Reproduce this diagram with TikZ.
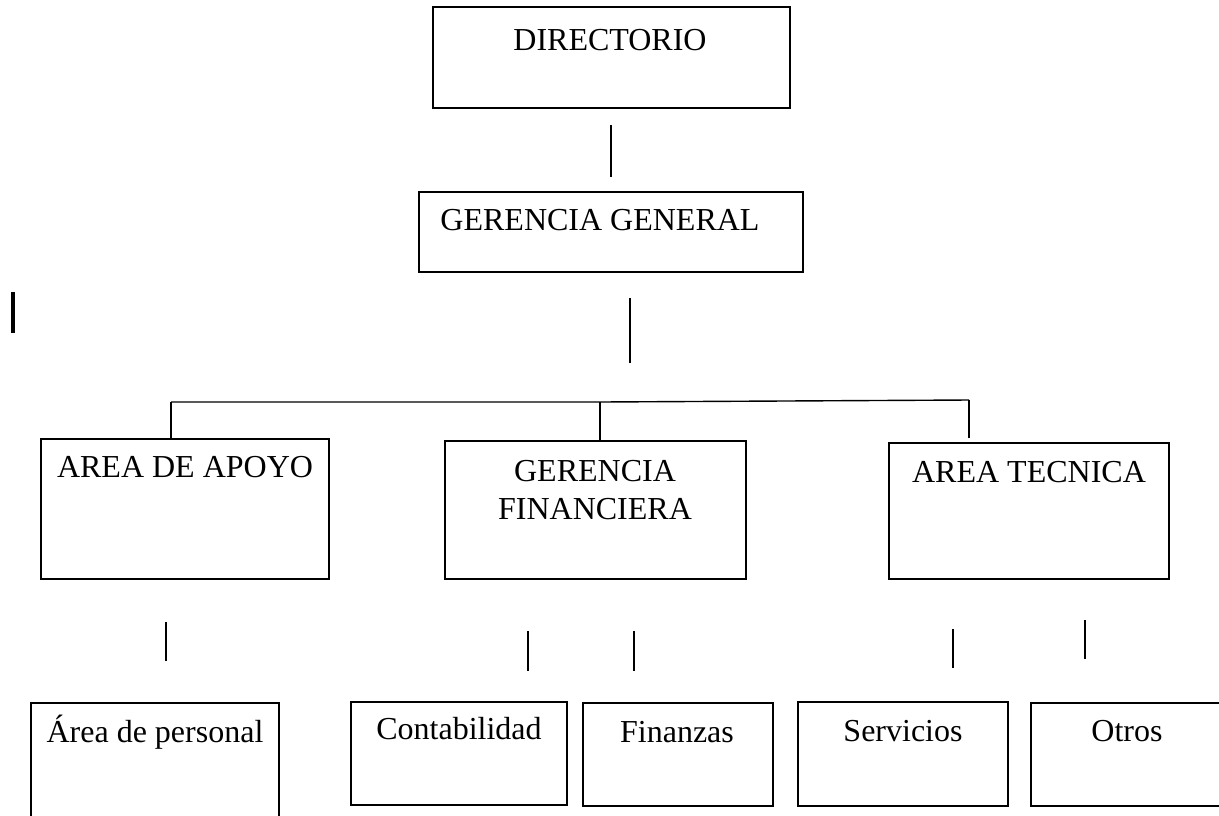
\documentclass[tikz,border=0pt]{standalone}
\usepackage{fontspec}
\setmainfont{Liberation Serif}
\begin{document}
\begin{tikzpicture}[x=1pt,y=-1pt,
  orgbox/.style={draw, line width=1.8pt, inner sep=0pt, rectangle},
  lbl/.style={anchor=base, inner sep=0pt, font=\fontsize{32}{38}\selectfont, align=center},
  conn/.style={line width=1.4pt},
  thickbar/.style={line width=3.8pt}]
\useasboundingbox (0,0) rectangle (1219,815);
\clip (0,0) rectangle (1219,815);
\fill[white] (0,0) rectangle (1219,815);
% boxes
\node[orgbox, minimum width=357pt, minimum height=101pt] (dir) at (611.5,57.5) {};
\node[orgbox, minimum width=384pt, minimum height=80pt] (gg) at (611,232) {};
\node[orgbox, minimum width=288pt, minimum height=140pt] (apo) at (185,509) {};
\node[orgbox, minimum width=301pt, minimum height=138pt] (fin) at (595.5,510) {};
\node[orgbox, minimum width=280pt, minimum height=136pt] (tec) at (1029,511) {};
\node[orgbox, minimum width=248pt, minimum height=140pt] (per) at (155,773) {};
\node[orgbox, minimum width=216pt, minimum height=103pt] (con) at (459,753.5) {};
\node[orgbox, minimum width=190pt, minimum height=103pt] (fzs) at (678,754.5) {};
\node[orgbox, minimum width=210pt, minimum height=104pt] (ser) at (903,754) {};
\node[orgbox, minimum width=210pt, minimum height=103pt] (otr) at (1136,754.5) {};
% labels
\node[lbl] (dirT) at (610,50) {DIRECTORIO};
\node[lbl] (ggT) at (600,230) {GERENCIA GENERAL};
\node[lbl] (apoT) at (185,477) {AREA DE APOYO};
\node[lbl] (finT1) at (595,481) {GERENCIA};
\node[lbl] (finT2) at (595,519) {FINANCIERA};
\node[lbl] (tecT) at (1029,482) {AREA TECNICA};
\node[lbl] (perT) at (155,742) {Área de personal};
\node[lbl] (conT) at (459,739) {Contabilidad};
\node[lbl] (fzsT) at (677,742) {Finanzas};
\node[lbl] (serT) at (903,741) {Servicios};
\node[lbl] (otrT) at (1127,741) {Otros};
% connector coordinates
\coordinate (c1a) at (611,125); \coordinate (c1b) at (611,177);
\coordinate (c2a) at (630,298); \coordinate (c2b) at (630,363);
\coordinate (hl) at (171,402); \coordinate (hr) at (969,400);
\coordinate (hm) at (600,402); \coordinate (hrb) at (969,438);
\coordinate (bar1) at (13,292); \coordinate (bar2) at (13,333);
\coordinate (p1a) at (166,622); \coordinate (p1b) at (166,661);
\coordinate (p2a) at (528,631); \coordinate (p2b) at (528,671);
\coordinate (p3a) at (634,631); \coordinate (p3b) at (634,671);
\coordinate (p4a) at (953,629); \coordinate (p4b) at (953,668);
\coordinate (p5a) at (1085,620); \coordinate (p5b) at (1085,659);
% connectors
\draw[conn] (c1a) -- (c1b);
\draw[conn] (c2a) -- (c2b);
\draw[conn] (hl) -- (hm) -- (hr);
\draw[conn] (hl) -- (hl |- apo.north);
\draw[conn] (hm) -- (hm |- fin.north);
\draw[conn] (hr) -- (hrb);
\draw[thickbar] (bar1) -- (bar2);
\draw[conn] (p1a) -- (p1b);
\draw[conn] (p2a) -- (p2b);
\draw[conn] (p3a) -- (p3b);
\draw[conn] (p4a) -- (p4b);
\draw[conn] (p5a) -- (p5b);
\end{tikzpicture}
\end{document}
